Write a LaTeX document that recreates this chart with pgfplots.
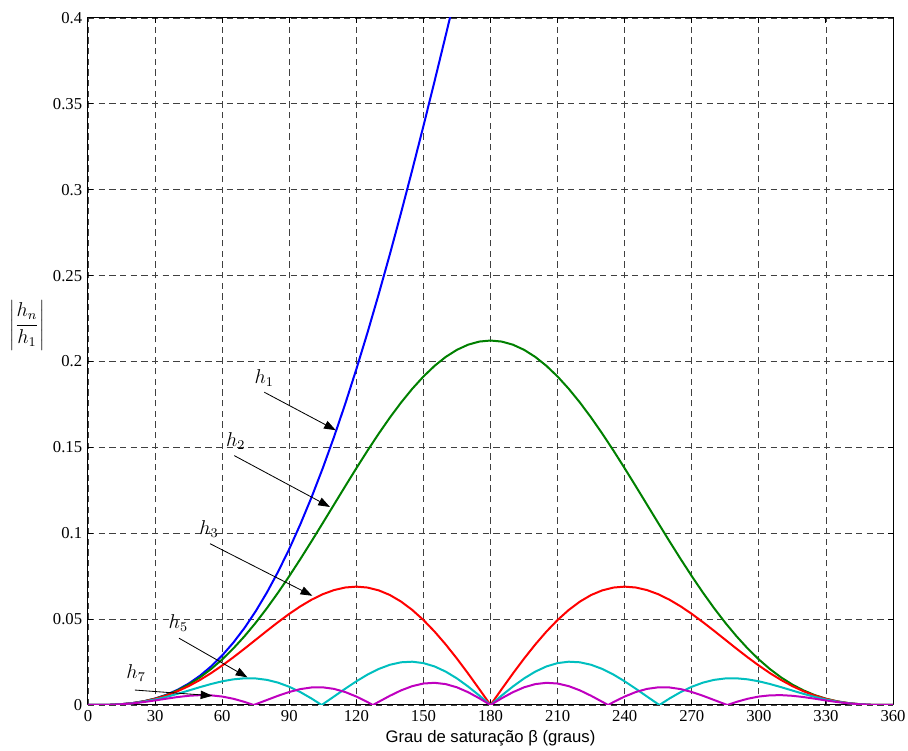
\documentclass[border=0pt]{standalone}
\usepackage{fontspec}
\setmainfont{Liberation Serif}
\newfontfamily\arial{Liberation Sans}
\usepackage{pgfplots}
\pgfplotsset{compat=1.18}
\usetikzlibrary{arrows.meta}
\definecolor{mblue}{rgb}{0,0,1}
\definecolor{mgreen}{rgb}{0,0.5,0}
\definecolor{mred}{rgb}{1,0,0}
\definecolor{mcyan}{rgb}{0,0.75,0.75}
\definecolor{mmag}{rgb}{0.75,0,0.75}
\begin{document}
\begin{tikzpicture}
\begin{axis}[
  scale only axis, width=483pt, height=412.2pt,
  xmin=0, xmax=360, ymin=0, ymax=0.4,
  clip mode=individual,
  xtick={0,30,60,90,120,150,180,210,240,270,300,330,360},
  ytick={0,0.05,0.1,0.15,0.2,0.25,0.3,0.35,0.4},
  scaled y ticks=false,
  yticklabel style={/pgf/number format/fixed, /pgf/number format/precision=2},
  /pgf/number format/assume math mode=true,
  tick label style={font=\fontsize{10}{12}\selectfont},
  grid=major,
  major grid style={black!75, line width=0.5pt, dash pattern=on 3.8pt off 2.6pt},
  axis line style={line width=0.6pt},
  tick align=inside, major tick length=3pt, tick style={black, line width=0.6pt},
  every axis plot/.append style={line width=1.2pt},
  xlabel={\arial Grau de saturação β (graus)},
  xlabel style={font=\fontsize{10}{12}\selectfont, at={(axis description cs:0.5,0)}, anchor=center, yshift=-19.8pt},
]
% h1
\addplot[mblue] table {
0 0
5 0.0000177
10 0.000141
15 0.000474
20 0.001121
25 0.002183
30 0.003756
35 0.005935
40 0.008808
45 0.012460
50 0.016969
55 0.022405
60 0.028835
65 0.036312
70 0.044888
75 0.054601
80 0.065485
85 0.077562
90 0.090845
95 0.105340
100 0.121041
105 0.137935
110 0.156000
115 0.175201
120 0.195501
125 0.216850
130 0.239191
135 0.262460
140 0.286586
145 0.311490
150 0.337089
155 0.363293
160 0.390010
165 0.417140
};
% h2
\addplot[mgreen] table {
0 0
5 0.0000178
10 0.000140
15 0.000472
20 0.001111
25 0.002152
30 0.003679
35 0.005770
40 0.008490
45 0.011893
50 0.016018
55 0.020892
60 0.026526
65 0.032916
70 0.040043
75 0.047874
80 0.056358
85 0.065435
90 0.075026
95 0.085046
100 0.095394
105 0.105964
110 0.116642
115 0.127306
120 0.137833
125 0.148098
130 0.157975
135 0.167343
140 0.176083
145 0.184085
150 0.191246
155 0.197472
160 0.202682
165 0.206807
170 0.209794
175 0.211602
180 0.212207
185 0.211602
190 0.209794
195 0.206807
200 0.202682
205 0.197472
210 0.191246
215 0.184085
220 0.176083
225 0.167343
230 0.157975
235 0.148098
240 0.137833
245 0.127306
250 0.116642
255 0.105964
260 0.095394
265 0.085046
270 0.075026
275 0.065435
280 0.056358
285 0.047874
290 0.040043
295 0.032916
300 0.026526
305 0.020892
310 0.016018
315 0.011893
320 0.008490
325 0.005770
330 0.003679
335 0.002152
340 0.001111
345 0.000472
350 0.000140
355 0.0000178
360 0
};
% h3
\addplot[mred] table {
0 0
5 0.0000176
10 0.000140
15 0.000468
20 0.001094
25 0.002101
30 0.003554
35 0.005503
40 0.007978
45 0.010987
50 0.014517
55 0.018531
60 0.022972
65 0.027761
70 0.032802
75 0.037981
80 0.043173
85 0.048244
90 0.053052
95 0.057456
100 0.061318
105 0.064507
110 0.066902
115 0.068401
120 0.068916
125 0.068384
130 0.066762
135 0.064039
140 0.060224
145 0.055355
150 0.049498
155 0.042741
160 0.035195
165 0.026994
170 0.018285
175 0.009230
180 0
185 0.009230
190 0.018285
195 0.026994
200 0.035195
205 0.042741
210 0.049498
215 0.055355
220 0.060224
225 0.064039
230 0.066762
235 0.068384
240 0.068916
245 0.068401
250 0.066902
255 0.064507
260 0.061318
265 0.057456
270 0.053052
275 0.048244
280 0.043173
285 0.037981
290 0.032802
295 0.027761
300 0.022972
305 0.018531
310 0.014517
315 0.010987
320 0.007978
325 0.005503
330 0.003554
335 0.002101
340 0.001094
345 0.000468
350 0.000140
355 0.0000176
360 0
};
% h5
\addplot[mcyan] table {
0 0
5 0.0000176
10 0.000138
15 0.000455
20 0.001041
25 0.001943
30 0.003173
35 0.004707
40 0.006485
45 0.008413
50 0.010369
55 0.012210
60 0.013783
65 0.014938
70 0.015536
75 0.015460
80 0.014632
85 0.013013
90 0.010610
95 0.007485
100 0.003745
104.48 0
105 0.000455
110 0.004925
115 0.009446
120 0.013783
125 0.017702
130 0.020979
135 0.023418
140 0.024863
145 0.025205
150 0.024394
155 0.022441
160 0.019419
165 0.015460
170 0.010749
175 0.005510
180 0
185 0.005510
190 0.010749
195 0.015460
200 0.019419
205 0.022441
210 0.024394
215 0.025205
220 0.024863
225 0.023418
230 0.020979
235 0.017702
240 0.013783
245 0.009446
250 0.004925
255 0.000455
255.52 0
260 0.003745
265 0.007485
270 0.010610
275 0.013013
280 0.014632
285 0.015460
290 0.015536
295 0.014938
300 0.013783
305 0.012210
310 0.010369
315 0.008413
320 0.006485
325 0.004707
330 0.003173
335 0.001943
340 0.001041
345 0.000455
350 0.000138
355 0.0000176
360 0
};
% h7
\addplot[mmag] table {
0 0
5 0.0000175
10 0.000136
15 0.000436
20 0.000966
25 0.001723
30 0.002656
35 0.003667
40 0.004619
45 0.005359
50 0.005733
55 0.005615
60 0.004923
65 0.003636
70 0.001808
74.07 0
75 0.000436
80 0.002910
85 0.005376
90 0.007579
95 0.009265
100 0.010217
105 0.010282
110 0.009387
115 0.007559
120 0.004923
125 0.001692
127.41 0
130 0.001845
135 0.005359
140 0.008508
145 0.010974
150 0.012501
155 0.012918
160 0.012161
165 0.010282
170 0.007443
175 0.003906
180 0
185 0.003906
190 0.007443
195 0.010282
200 0.012161
205 0.012918
210 0.012501
215 0.010974
220 0.008508
225 0.005359
230 0.001845
232.59 0
235 0.001692
240 0.004923
245 0.007559
250 0.009387
255 0.010282
260 0.010217
265 0.009265
270 0.007579
275 0.005376
280 0.002910
285 0.000436
285.93 0
290 0.001808
295 0.003636
300 0.004923
305 0.005615
310 0.005733
315 0.005359
320 0.004619
325 0.003667
330 0.002656
335 0.001723
340 0.000966
345 0.000436
350 0.000136
355 0.0000175
360 0
};
% annotations
\tikzset{harr/.style={black, line width=0.5pt, -{Triangle[length=7pt,width=5pt]}}}
\node at (axis cs:78.85,0.1905) {\large $h_1$};
\draw[harr] (axis cs:78.85,0.1821) -- (axis cs:110.8,0.1600);
\node at (axis cs:66.05,0.1535) {\large $h_2$};
\draw[harr] (axis cs:65.4,0.1452) -- (axis cs:108.2,0.1153);
\node at (axis cs:54.1,0.1026) {\large $h_3$};
\draw[harr] (axis cs:54.6,0.0939) -- (axis cs:100.3,0.0636);
\node at (axis cs:40.4,0.0476) {\large $h_5$};
\draw[harr] (axis cs:40.7,0.0389) -- (axis cs:71.3,0.0161);
\node at (axis cs:21.5,0.0185) {\large $h_7$};
\draw[harr] (axis cs:21.0,0.0087) -- (axis cs:55.6,0.0054);
\node at (axis description cs:0,0.553) [xshift=-36.6pt] {\large $\displaystyle\left|\frac{h_n}{h_1}\right|$};
\end{axis}
\pgfresetboundingbox
\path[use as bounding box] ([xshift=-52.8pt,yshift=-27.6pt]current axis.south west) rectangle ([xshift=9pt,yshift=10.8pt]current axis.north east);
\end{tikzpicture}
\end{document}
